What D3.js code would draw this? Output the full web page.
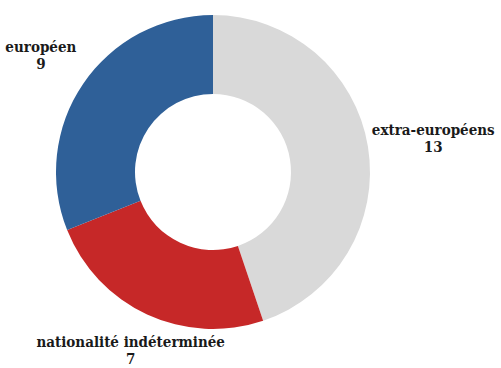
<!DOCTYPE html>
<html>
<head>
<meta charset="utf-8">
<script src="https://cdnjs.cloudflare.com/ajax/libs/d3/7.8.5/d3.min.js"></script>
<style>
  body { margin: 0; background: #fff; }
  text { font-family: "DejaVu Serif", serif; font-stretch: condensed; font-weight: bold; fill: #1a1a1a; }
</style>
</head>
<body>
<div id="chart"></div>
<script>
var categories = ["extra-européens", "nationalité indéterminée", "européen"];
var values = [13, 7, 9];
var colors = ["#d9d9d9", "#c62828", "#2f6098"];

var fullWidth = 501, fullHeight = 368;
var cx = 213, cy = 172;
var outerR = 157, innerR = 78, labelR = 208;
var labelNudge = [15, 5, 0]; // small horizontal shifts so labels clear the ring

var svg = d3.select("#chart").append("svg")
            .attr("width", fullWidth).attr("height", fullHeight);

var g = svg.append("g").attr("transform", "translate(" + cx + "," + cy + ")");

var pie = d3.pie().sort(null).value(function(d){ return d; });
var arc = d3.arc().innerRadius(innerR).outerRadius(outerR);
var labelArc = d3.arc().innerRadius(labelR).outerRadius(labelR);

var slices = pie(values);

g.selectAll("path")
  .data(slices)
  .enter()
  .append("path")
  .attr("d", arc)
  .style("fill", function(d, i){ return colors[i]; });

var labels = g.selectAll(".lbl")
  .data(slices)
  .enter()
  .append("text")
  .attr("class", "lbl")
  .attr("text-anchor", "middle")
  .style("font-size", "15px")
  .attr("transform", function(d, i){
    var c = labelArc.centroid(d);
    var x = c[0] + labelNudge[i], y = c[1] - 3;
    // keep the bottom label inside the frame
    if (cy + y > 347) y = 347 - cy;
    return "translate(" + x + "," + y + ")";
  });

labels.append("tspan")
  .attr("x", 0).attr("y", 0)
  .text(function(d, i){ return categories[i]; });
labels.append("tspan")
  .attr("x", 0).attr("y", 17)
  .text(function(d){ return d.data; });
</script>
</body>
</html>
